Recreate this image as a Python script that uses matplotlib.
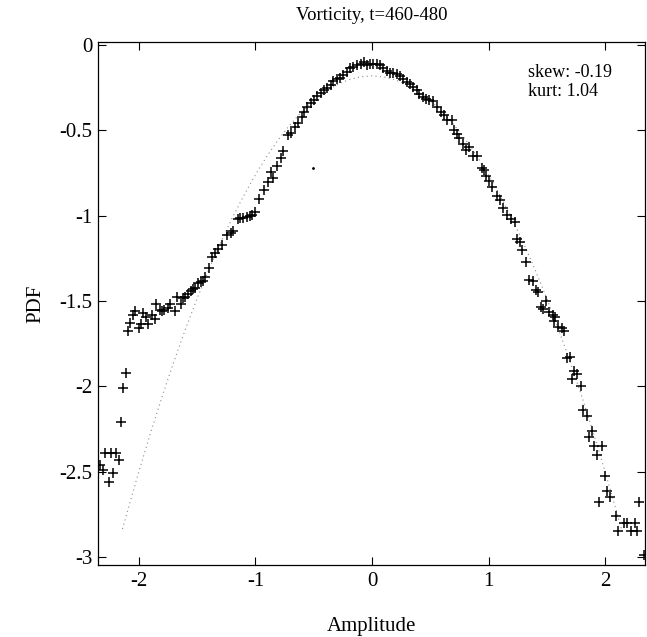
import matplotlib
matplotlib.use("Agg")
from matplotlib import pyplot as plt

plt.rcParams['font.family'] = ['Liberation Serif', 'DejaVu Serif']
plt.rcParams['axes.unicode_minus'] = False

# Datos medidos (+)
amp = [-2.33, -2.31, -2.29, -2.26, -2.24, -2.22, -2.20, -2.17, -2.15, -2.135, -2.11,
       -2.095, -2.075, -2.05, -2.03, -2.00, -1.985, -1.96, -1.94, -1.92, -1.89, -1.865,
       -1.85, -1.82, -1.80, -1.78, -1.75, -1.73, -1.69, -1.67, -1.64, -1.625, -1.60,
       -1.58, -1.555, -1.535, -1.515, -1.49, -1.465, -1.45, -1.43, -1.40, -1.376, -1.35,
       -1.32, -1.285, -1.24, -1.21, -1.19, -1.15, -1.13, -1.105, -1.075, -1.05, -1.03,
       -1.0, -0.97, -0.927, -0.893, -0.867, -0.847, -0.813, -0.784, -0.76, -0.724, -0.698,
       -0.66, -0.633, -0.603, -0.581, -0.555, -0.526, -0.50, -0.47, -0.44, -0.412, -0.384,
       -0.355, -0.332, -0.303, -0.275, -0.246, -0.217, -0.189, -0.16, -0.126, -0.097,
       -0.069, -0.045, -0.017, 0.011, 0.04, 0.069, 0.097, 0.126, 0.155, 0.183, 0.212,
       0.24, 0.269, 0.298, 0.326, 0.355, 0.384, 0.406, 0.435, 0.464, 0.492, 0.526, 0.56,
       0.59, 0.618, 0.646, 0.684, 0.704, 0.727, 0.75, 0.778, 0.807, 0.835, 0.87, 0.904,
       0.941, 0.964, 0.978, 1.004, 1.027, 1.07, 1.099, 1.127, 1.156, 1.19, 1.227, 1.247,
       1.27, 1.288, 1.322, 1.35, 1.38, 1.408, 1.427, 1.45, 1.47, 1.494, 1.52, 1.55, 1.562,
       1.574, 1.60, 1.628, 1.648, 1.676, 1.70, 1.72, 1.737, 1.763, 1.79, 1.814, 1.843,
       1.865, 1.886, 1.906, 1.93, 1.95, 1.97, 2.0, 2.02, 2.043, 2.094, 2.11, 2.163, 2.186,
       2.22, 2.258, 2.27, 2.29, 2.33]
pdf = [-2.46, -2.49, -2.39, -2.56, -2.39, -2.51, -2.39, -2.43, -2.21, -2.01, -1.92,
       -1.675, -1.63, -1.58, -1.557, -1.66, -1.637, -1.57, -1.594, -1.637, -1.58, -1.604,
       -1.52, -1.555, -1.56, -1.555, -1.54, -1.516, -1.56, -1.477, -1.516, -1.483, -1.477,
       -1.457, -1.442, -1.432, -1.422, -1.393, -1.389, -1.38, -1.36, -1.307, -1.242, -1.219,
       -1.193, -1.174, -1.115, -1.10, -1.09, -1.017, -1.015, -1.011, -1.007, -1.00, -0.996,
       -0.98, -0.904, -0.851, -0.802, -0.743, -0.779, -0.71, -0.659, -0.622, -0.524, -0.518,
       -0.479, -0.456, -0.42, -0.391, -0.36, -0.339, -0.319, -0.30, -0.28, -0.264, -0.25,
       -0.231, -0.211, -0.201, -0.192, -0.176, -0.157, -0.137, -0.127, -0.117, -0.111,
       -0.098, -0.117, -0.111, -0.113, -0.111, -0.117, -0.137, -0.151, -0.162, -0.166, -0.17,
       -0.182, -0.201, -0.215, -0.225, -0.245, -0.264, -0.288, -0.303, -0.313, -0.319, -0.327, -0.362,
       -0.391, -0.411, -0.436, -0.44, -0.495, -0.522, -0.544, -0.577, -0.612, -0.60, -0.651, -0.651,
       -0.718, -0.734, -0.769, -0.796, -0.832, -0.886, -0.906, -0.952, -0.998, -1.017, -1.037, -1.135,
       -1.154, -1.199, -1.272, -1.379, -1.383, -1.438, -1.448, -1.532, -1.545, -1.50, -1.565, -1.579, -1.614,
       -1.594, -1.653, -1.657, -1.678, -1.833, -1.829, -1.956, -1.911, -1.927, -2.0, -2.138, -2.171,
       -2.299, -2.263, -2.347, -2.40, -2.68, -2.347, -2.528, -2.611, -2.647, -2.758, -2.85, -2.803, -2.803,
       -2.85, -2.803, -2.85, -2.68, -2.987]

# Ajuste gaussiano (punteado)
fit_x = [-2.14, -2.1, -2.0, -1.9, -1.8, -1.7, -1.6, -1.5, -1.4, -1.3, -1.2, -1.1, -1.0,
         -0.9, -0.8, -0.7, -0.6, -0.5, -0.4, -0.3, -0.2, -0.1, 0.0, 0.1, 0.2, 0.3, 0.4,
         0.5, 0.6, 0.7, 0.8, 0.9, 1.0, 1.1, 1.2, 1.3, 1.4, 1.5, 1.6, 1.7, 1.8, 1.9, 2.0,
         2.1, 2.14]
fit_y = [-2.836, -2.738, -2.500, -2.274, -2.059, -1.856, -1.665, -1.485, -1.317, -1.160,
         -1.015, -0.882, -0.760, -0.650, -0.551, -0.464, -0.389, -0.325, -0.273, -0.232,
         -0.203, -0.186, -0.180, -0.186, -0.203, -0.232, -0.273, -0.325, -0.389, -0.464,
         -0.551, -0.650, -0.760, -0.882, -1.015, -1.160, -1.317, -1.485, -1.665, -1.856,
         -2.059, -2.274, -2.500, -2.738, -2.836]

# Punto suelto del escaneo
speck_x = [-0.51]
speck_y = [-0.72]

xticks = [-2, -1, 0, 1, 2]
yticks = [0, -0.5, -1, -1.5, -2, -2.5, -3]
yticklabels = ['0', '-0.5', '-1', '-1.5', '-2', '-2.5', '-3']

fig = plt.figure(figsize=(6.47, 6.37), dpi=100)
ax = fig.add_axes([0.1515, 0.113, 0.845, 0.821])

ax.plot(fit_x, fit_y, linestyle=(0, (1, 3)), color='0.55', linewidth=0.8)
ax.plot(amp, pdf, linestyle='none', marker='+', markersize=7, markeredgewidth=1.1,
        color='black')
ax.plot(speck_x, speck_y, linestyle='none', marker='.', markersize=2, color='black')

ax.set_xlim(-2.35, 2.34)
ax.set_ylim(-3.047, 0.018)
ax.set_xticks(xticks)
ax.set_xticklabels([str(t) for t in xticks])
ax.set_yticks(yticks)
ax.set_yticklabels(yticklabels)
ax.tick_params(direction='in', length=6, width=0.8, top=True, right=True,
               labelsize=15)
ax.tick_params(axis='y', pad=4)
ax.tick_params(axis='x', pad=5)
for s in ax.spines.values():
    s.set_linewidth(0.9)

ax.set_title("Vorticity, t=460-480", fontsize=13.5, pad=16)
ax.set_xlabel("Amplitude", fontsize=15, labelpad=19)
ax.set_ylabel("PDF", fontsize=15, labelpad=10)
ax.text(0.786, 0.958, "skew: -0.19\nkurt: 1.04", transform=ax.transAxes,
        fontsize=13, va='top', ha='left', linespacing=1.15)

plt.savefig('out.png', dpi=100)
